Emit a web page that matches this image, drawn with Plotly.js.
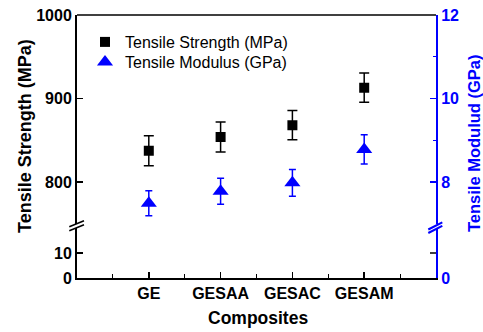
<!DOCTYPE html>
<html>
<head>
<meta charset="utf-8">
<script src="https://cdn.plot.ly/plotly-3.0.1.min.js"></script>
<style>html,body{margin:0;padding:0;background:#fff;}#chart{width:483px;height:332px;}</style>
</head>
<body>
<div id="chart"></div>
<script>
// Data
const categories = ["GE", "GESAA", "GESAC", "GESAM"];
const strength = [837.5, 854, 868, 913];          // MPa
const strengthErr = [18, 18, 17.5, 17.5];
const modulus = [7.49, 7.78, 7.98, 8.78];         // GPa
const modulusErr = [0.30, 0.31, 0.32, 0.35];
const leftTopTicks = [800, 900, 1000];
const leftBottomTicks = [0, 10];
const rightTopTicks = [8, 10, 12];

const xpos = categories.map((c, i) => i + 1);
const FONT = "Liberation Sans, Arial, Helvetica, sans-serif";
const BLUE = "#0000ff";

const traces = [
  {
    x: xpos, y: strength, xaxis: "x", yaxis: "y2", legend: "legend",
    type: "scatter", mode: "markers", name: "Tensile Strength (MPa)",
    marker: {symbol: "square", size: 10, color: "#000"},
    error_y: {type: "data", array: strengthErr, visible: true, color: "#000", thickness: 1.5, width: 5}
  },
  {
    x: xpos, y: modulus, xaxis: "x", yaxis: "y3", legend: "legend2",
    type: "scatter", mode: "markers", name: "Tensile Modulus (GPa)",
    marker: {symbol: "triangle-up", size: 14, color: BLUE},
    error_y: {type: "data", array: modulusErr, visible: true, color: BLUE, thickness: 1.5, width: 3.5}
  },
  // empty trace so the lower right axis is drawn
  {x: [], y: [], xaxis: "x", yaxis: "y4", type: "scatter", mode: "markers", showlegend: false, hoverinfo: "skip"}
];

const W = 359, H = 263; // plot area size in px
function px(x) { return (x - 77) / W; }
function py(y) { return (278 - y) / H; }

const tickFont = {family: FONT, size: 16, color: "#000", weight: "bold"};
const tickFontBlue = {family: FONT, size: 16, color: BLUE, weight: "bold"};
const legFont = {family: FONT, size: 16, color: "#000"};

const layout = {
  width: 483, height: 332,
  margin: {l: 77, r: 47, t: 15, b: 54},
  paper_bgcolor: "#fff", plot_bgcolor: "#fff",
  showlegend: true,
  legend: {x: px(85), y: py(42), xanchor: "left", yanchor: "middle",
           font: legFont, bgcolor: "rgba(0,0,0,0)", itemwidth: 30},
  legend2: {x: px(85), y: py(62), xanchor: "left", yanchor: "middle",
           font: legFont, bgcolor: "rgba(0,0,0,0)", itemwidth: 30},
  xaxis: {
    domain: [0, 1], range: [0, 5], anchor: "y",
    tickmode: "array", tickvals: xpos, ticktext: categories,
    ticks: "inside", ticklen: 6, tickwidth: 1.5, tickcolor: "#000",
    minor: {tickmode: "array", tickvals: [0.5, 1.5, 2.5, 3.5, 4.5], ticks: "inside", ticklen: 4, tickwidth: 1, tickcolor: "#000"},
    showline: true, linecolor: "#000", linewidth: 2,
    showgrid: false, zeroline: false,
    tickfont: tickFont
  },
  yaxis: {
    domain: [0, py(228)], range: [0, 20], anchor: "x",
    tickmode: "array", tickvals: leftBottomTicks,
    ticks: "inside", ticklen: 6, tickwidth: 1.5, tickcolor: "#000",
    showline: true, linecolor: "#000", linewidth: 2,
    showgrid: false, zeroline: false, tickfont: tickFont
  },
  yaxis2: {
    domain: [py(223.75), 1], range: [750, 1000], anchor: "x",
    tickmode: "array", tickvals: leftTopTicks,
    ticks: "inside", ticklen: 6, tickwidth: 1.5, tickcolor: "#000",
    showline: true, linecolor: "#000", linewidth: 2,
    showgrid: false, zeroline: false, tickfont: tickFont
  },
  yaxis3: {
    overlaying: "y2", side: "right", anchor: "x", range: [7, 12],
    tickmode: "array", tickvals: rightTopTicks,
    ticks: "inside", ticklen: 6, tickwidth: 1.5, tickcolor: BLUE,
    minor: {tickmode: "array", tickvals: [9, 11], ticks: "inside", ticklen: 3, tickwidth: 1, tickcolor: BLUE},
    showline: true, linecolor: BLUE, linewidth: 2,
    showgrid: false, zeroline: false, tickfont: tickFontBlue
  },
  yaxis4: {
    overlaying: "y", side: "right", anchor: "x", range: [0, 20],
    tickmode: "array", tickvals: [0], ticktext: ["0"],
    ticks: "", showline: true, linecolor: BLUE, linewidth: 2,
    showgrid: false, zeroline: false, tickfont: tickFontBlue
  },
  shapes: [
    // top frame
    {type: "line", xref: "paper", yref: "paper", x0: 0, x1: 1, y0: 1, y1: 1, line: {color: "#000", width: 1.5}},
    // right-lower black tick at 10
    {type: "line", xref: "paper", yref: "y", x0: 1, x1: 1 - 6 / W, y0: 10, y1: 10, line: {color: "#000", width: 1.5}},
    // left break marks
    {type: "line", xref: "paper", yref: "paper", x0: px(69.3), y0: py(226.7), x1: px(84), y1: py(220.7), line: {color: "#000", width: 1.5}},
    {type: "line", xref: "paper", yref: "paper", x0: px(69.3), y0: py(230.7), x1: px(84), y1: py(224.7), line: {color: "#000", width: 1.5}},
    // right break marks
    {type: "line", xref: "paper", yref: "paper", x0: px(428.3), y0: py(229.5), x1: px(442.3), y1: py(222.3), line: {color: BLUE, width: 2}},
    {type: "line", xref: "paper", yref: "paper", x0: px(428.3), y0: py(233), x1: px(442.3), y1: py(225.8), line: {color: BLUE, width: 2}}
  ],
  annotations: [
    {text: "Tensile Strength (MPa)", xref: "paper", yref: "paper", x: px(25), y: py(136), textangle: -90,
     showarrow: false, xanchor: "center", yanchor: "middle", font: {family: FONT, size: 18, color: "#000", weight: "bold"}},
    {text: "Tensile Modulud (GPa)", xref: "paper", yref: "paper", x: px(474), y: py(143), textangle: -90,
     showarrow: false, xanchor: "center", yanchor: "middle", font: {family: FONT, size: 16.5, color: BLUE, weight: "bold"}},
    {text: "Composites", xref: "paper", yref: "paper", x: px(258), y: py(318),
     showarrow: false, xanchor: "center", yanchor: "middle", font: {family: FONT, size: 17.5, color: "#000", weight: "bold"}}
  ]
};

Plotly.newPlot("chart", traces, layout, {displayModeBar: false, staticPlot: true});
</script>
</body>
</html>
